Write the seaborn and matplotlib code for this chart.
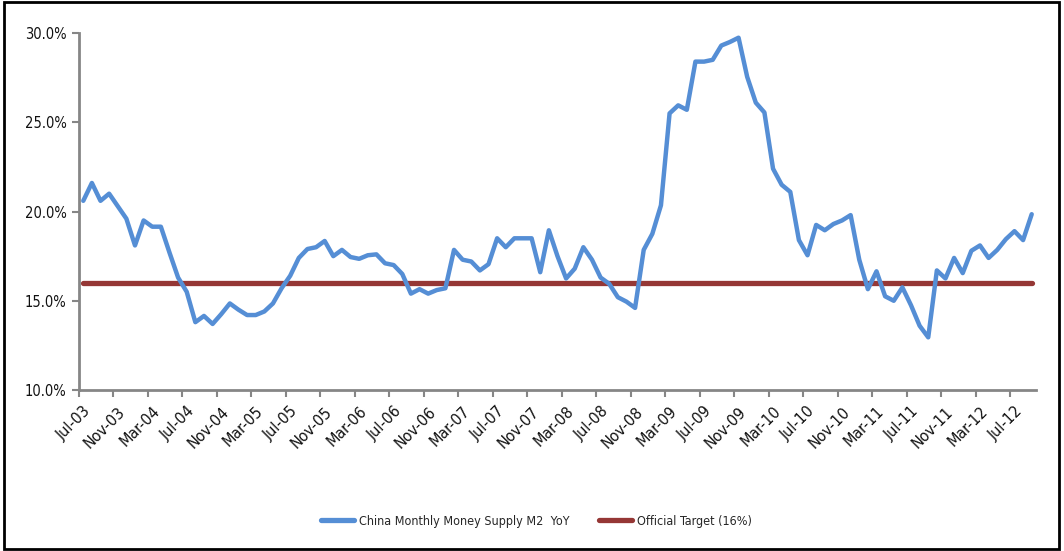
import numpy as np
import pandas as pd
import matplotlib
matplotlib.use("Agg")
import matplotlib.pyplot as plt
from matplotlib.lines import Line2D
from matplotlib.patches import Rectangle
import seaborn as sns

# Monthly M2 year-on-year growth (%), Jul-2003 .. Sep-2012
start_month = "2003-07-01"
m2_yoy = [
    20.6, 21.6, 20.6, 21.0, 20.3, 19.6, 18.1, 19.5, 19.15, 19.15,
    17.7, 16.3, 15.5, 13.8, 14.15, 13.7, 14.25, 14.85, 14.5, 14.2,
    14.2, 14.4, 14.85, 15.7, 16.4, 17.4, 17.9, 18.0, 18.35, 17.5,
    17.85, 17.45, 17.35, 17.55, 17.6, 17.1, 17.0, 16.5, 15.4, 15.65,
    15.4, 15.6, 15.7, 17.85, 17.3, 17.2, 16.7, 17.05, 18.5, 18.0,
    18.5, 18.5, 18.5, 16.6, 18.95, 17.5, 16.25, 16.8, 18.0, 17.3,
    16.3, 15.95, 15.2, 14.95, 14.6, 17.85, 18.75, 20.35, 25.5, 25.95,
    25.7, 28.4, 28.4, 28.5, 29.3, 29.5, 29.74, 27.55, 26.1, 25.55,
    22.4, 21.5, 21.1, 18.4, 17.55, 19.25, 18.95, 19.3, 19.5, 19.8,
    17.3, 15.65, 16.65, 15.25, 15.0, 15.75, 14.75, 13.6, 12.95, 16.7,
    16.25, 17.4, 16.55, 17.8, 18.1, 17.4, 17.85, 18.45, 18.9, 18.4,
    19.85,
]
official_target = 16.0

series_m2 = "China Monthly Money Supply M2  YoY"
series_target = "Official Target (16%)"
y_ticks = [10, 15, 20, 25, 30]

months = pd.date_range(start_month, periods=len(m2_yoy), freq="MS")
df = pd.DataFrame({
    "pos": np.arange(len(months)),
    "month": months,
    "m2": m2_yoy,
    "target": [official_target] * len(months),
})

blue = "#558ED5"
red = "#953735"
axis_grey = "#868686"
text_col = "#111111"

sns.set_theme(style="white")
plt.rcParams["font.family"] = ["DejaVu Sans"]
plt.rcParams["font.stretch"] = "condensed"

fig = plt.figure(figsize=(10.64, 5.51), dpi=100)
ax = fig.add_axes([0.0742, 0.2922, 0.8995, 0.6478])

sns.lineplot(data=df, x="pos", y="target", ax=ax, color=red, linewidth=3.8,
             solid_capstyle="round", legend=False)
sns.lineplot(data=df, x="pos", y="m2", ax=ax, color=blue, linewidth=3.2,
             solid_capstyle="round", solid_joinstyle="round", legend=False)

n = len(months)
ax.set_xlim(-0.5, n - 0.5)
ax.set_ylim(10, 30)
ax.set_xlabel("")
ax.set_ylabel("")

# y axis
ax.set_yticks(y_ticks)
ax.set_yticklabels([f"{v:.1f}%" for v in y_ticks], fontsize=10.5, color=text_col)

# x axis: labels every 4 months, tick marks between categories
label_pos = np.arange(0, n, 4)
ax.set_xticks(label_pos)
ax.set_xticklabels([months[i].strftime("%b-%y") for i in label_pos],
                   rotation=45, ha="right", rotation_mode="anchor",
                   fontsize=11.5, color=text_col)
ax.set_xticks(label_pos - 0.5, minor=True)
ax.tick_params(axis="x", which="major", length=0, pad=10)
ax.tick_params(axis="x", which="minor", length=5, width=1.5, color=axis_grey,
               direction="out", bottom=True)
ax.tick_params(axis="y", which="major", length=5, width=1.5, color=axis_grey,
               direction="out", left=True, pad=4)

for side in ["top", "right"]:
    ax.spines[side].set_visible(False)
for side in ["left", "bottom"]:
    ax.spines[side].set_color(axis_grey)
    ax.spines[side].set_linewidth(2)

handles = [Line2D([], [], color=blue, linewidth=3.8, solid_capstyle="round"),
           Line2D([], [], color=red, linewidth=3.8, solid_capstyle="round")]
fig.legend(handles, [series_m2, series_target], loc="center",
           bbox_to_anchor=(0.504, 0.054), ncol=2, frameon=False,
           fontsize=9, handlelength=2.6, handletextpad=0.4,
           columnspacing=2.4)

# chart-area border
fig.patches.append(Rectangle((0.004, 0.003), 0.991, 0.994, transform=fig.transFigure,
                             fill=False, edgecolor="black", linewidth=2))

fig.savefig("out.png", dpi=100, facecolor="white")
